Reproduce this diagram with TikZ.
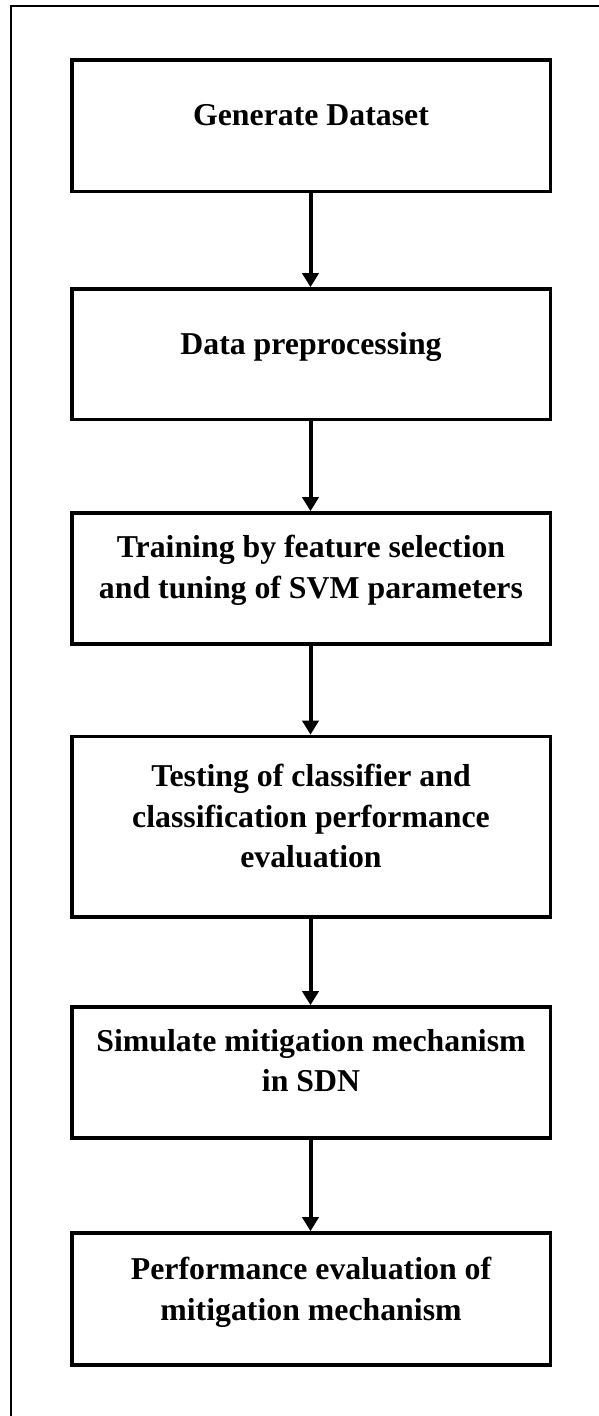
\documentclass[tikz,border=0pt]{standalone}
\usepackage{fontspec}
\setmainfont{Liberation Serif}
\usetikzlibrary{arrows.meta}
\tikzset{
  x=1pt, y=-1pt,
  frame/.style={draw=black, line width=2.3pt},
  stepbox/.style={draw=black, line width=3.6pt, minimum width=478.5pt, inner sep=0pt},
  txt/.style={inner sep=0pt, align=center, font=\fontsize{31.8}{40.5}\selectfont\bfseries},
  flow/.style={line width=4pt, -{Triangle[width=16pt,length=14pt]}}
}
\begin{document}
\begin{tikzpicture}
\useasboundingbox (0,0) rectangle (599,1416);
\clip (0,0) rectangle (599,1416);
\draw[frame] (11,6.2) rectangle (620,1440);

\node[stepbox, minimum height=131.5pt] (b1) at (311.25,125.75) {};
\node[stepbox, minimum height=130.5pt] (b2) at (311.25,354.25) {};
\node[stepbox, minimum height=131pt] (b3) at (311.25,578.5) {};
\node[stepbox, minimum height=180.5pt] (b4) at (311.25,826.75) {};
\node[stepbox, minimum height=131pt] (b5) at (311.25,1072.5) {};
\node[stepbox, minimum height=132pt] (b6) at (311.25,1299) {};

\node[txt, anchor=base] (t1) at (311,125) {Generate Dataset};
\node[txt, anchor=base] (t2) at (311,354) {Data preprocessing};
\node[txt, anchor=north] (t3) at (311,535) {Training by feature selection\\and tuning of SVM parameters};
\node[txt, anchor=north] (t4) at (311,764) {Testing of classifier and\\classification performance\\evaluation};
\node[txt, anchor=north] (t5) at (311,1029) {Simulate mitigation mechanism\\in SDN};
\node[txt, anchor=north] (t6) at (311,1257) {Performance evaluation of\\mitigation mechanism};

\draw[flow] (b1.south -| 310.5,0) -- (b2.north -| 310.5,0);
\draw[flow] (b2.south -| 310.5,0) -- (b3.north -| 310.5,0);
\draw[flow] (b3.south -| 310.5,0) -- (b4.north -| 310.5,0);
\draw[flow] (b4.south -| 310.5,0) -- (b5.north -| 310.5,0);
\draw[flow] (b5.south -| 310.5,0) -- (b6.north -| 310.5,0);
\end{tikzpicture}
\end{document}
